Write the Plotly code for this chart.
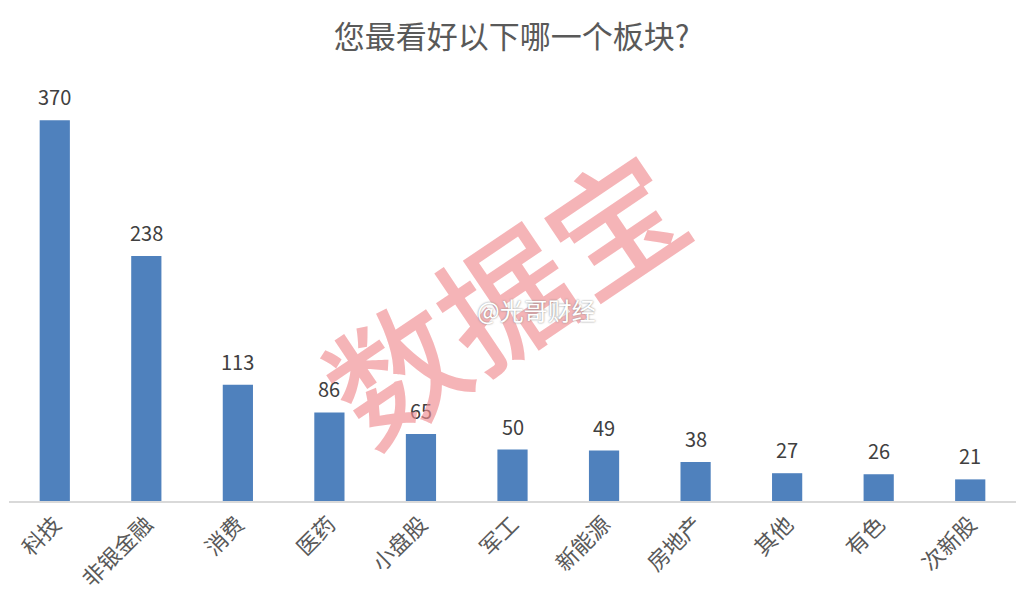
import plotly.graph_objects as go

categories = ["科技", "非银金融", "消费", "医药", "小盘股", "军工", "新能源", "房地产", "其他", "有色", "次新股"]
values = [370, 238, 113, 86, 65, 50, 49, 38, 27, 26, 21]
title_text = "您最看好以下哪一个板块?"

FONT = "Noto Sans CJK SC, Microsoft YaHei, sans-serif"

fig = go.Figure()
fig.add_trace(go.Bar(
    x=categories, y=values,
    marker=dict(color="#4F81BD", line=dict(width=0)),
    hoverinfo="x+y",
))

for c, v in zip(categories, values):
    fig.add_annotation(x=c, y=v, text=str(v), showarrow=False,
                       yanchor="bottom", yshift=7,
                       font=dict(family=FONT, size=20, color="#404040"))

# watermarks
fig.add_annotation(xref="paper", yref="paper", x=0.49, y=0.495, text="数据宝",
                   showarrow=False, textangle=-34,
                   font=dict(family=FONT, size=132, weight=500, color="rgba(240,140,145,0.65)"))
fig.add_annotation(xref="paper", yref="paper", x=0.524, y=0.454, text="@光哥财经",
                   showarrow=False,
                   font=dict(family=FONT, size=24, color="white",
                             shadow="0px 0px 2px #7a7a7a"))

fig.update_layout(
    width=1034, height=614,
    margin=dict(l=1, r=26, t=72, b=121),
    paper_bgcolor="white", plot_bgcolor="white",
    title=dict(text=title_text, x=0.487, xanchor="center", y=0.952, yanchor="middle",
               font=dict(family=FONT, size=31, color="#595959")),
    bargap=0.67,
    showlegend=False,
    xaxis=dict(showline=True, linecolor="#D9D9D9", linewidth=1.5, tickangle=-45,
               ticks="", tickfont=dict(family=FONT, size=22, color="#595959"),
               showgrid=False, zeroline=False, automargin=False),
    yaxis=dict(visible=False, range=[0, 409], showgrid=False, zeroline=False),
)

fig.write_html("out.html")
